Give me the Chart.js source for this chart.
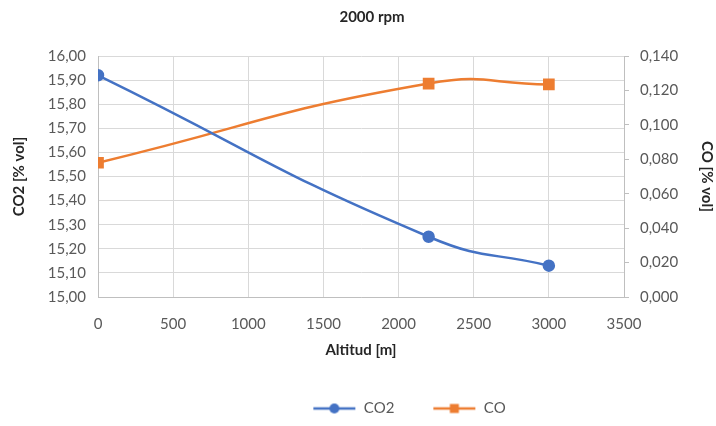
<!DOCTYPE html>
<html>
<head>
<meta charset="utf-8">
<script src="https://cdn.jsdelivr.net/npm/chart.js@4.4.0/dist/chart.umd.min.js"></script>
<style>
  html, body { margin: 0; padding: 0; background: #fff; }
  #wrap { width: 716px; height: 426px; }
</style>
</head>
<body>
<div id="wrap"><canvas id="chart" width="716" height="426"></canvas></div>
<script>
// Dữ liệu
const altitudes = [0, 2200, 3000];
const co2Values = [15.92, 15.25, 15.13];
const coValues = [0.078, 0.124, 0.1235];
const seriesNames = ["CO2", "CO"];
const xRange = [0, 3500, 500];
const co2Range = [15.0, 16.0, 0.1];
const coRange = [0, 0.14, 0.02];

const BLUE = "#4472C4";
const ORANGE = "#ED7D31";
const FONT = "Lato, 'Open Sans', sans-serif";

// Biểu tượng chú giải: đường + điểm ở giữa
function legendIcon(color, shape) {
    const c = document.createElement("canvas");
    c.width = 44; c.height = 14;
    const ctx = c.getContext("2d");
    ctx.strokeStyle = color; ctx.lineWidth = 2.5;
    ctx.beginPath(); ctx.moveTo(1, 7); ctx.lineTo(43, 7); ctx.stroke();
    ctx.fillStyle = color;
    if (shape === "circle") {
        ctx.beginPath(); ctx.arc(22, 7, 5, 0, Math.PI * 2); ctx.fill();
    } else {
        ctx.fillRect(17.5, 2.5, 9, 9);
    }
    return c;
}
const icons = [legendIcon(BLUE, "circle"), legendIcon(ORANGE, "rect")];

const toPoints = (ys) => altitudes.map((x, i) => ({ x, y: ys[i] }));

// Dịch chú giải và tiêu đề sang phải như bản gốc
const shiftBlocks = {
    id: "shiftBlocks",
    afterLayout(chart) {
        chart.legend.left += 46; chart.legend.right += 46;
        chart.titleBlock.left += 11; chart.titleBlock.right += 11;
    }
};

new Chart(document.getElementById("chart"), {
    type: "line",
    data: {
        datasets: [
            { label: seriesNames[0], data: toPoints(co2Values), yAxisID: "y",
              borderColor: BLUE, backgroundColor: BLUE, borderWidth: 2.5,
              pointStyle: "circle", pointRadius: 5, pointHoverRadius: 5, tension: 0.5 },
            { label: seriesNames[1], data: toPoints(coValues), yAxisID: "y1",
              borderColor: ORANGE, backgroundColor: ORANGE, borderWidth: 2.5,
              pointStyle: "rect", pointRadius: 6.5, pointHoverRadius: 6.5, tension: 0.5 }
        ]
    },
    options: {
        responsive: false,
        animation: false,
        layout: { padding: { top: 0, right: 0, bottom: 0, left: 10 } },
        plugins: {
            title: {
                display: true, text: "2000 rpm", color: "#262626", fullSize: false,
                font: { family: FONT, size: 15, weight: "bold" },
                padding: { top: 8, bottom: 30 }
            },
            legend: {
                position: "bottom",
                labels: {
                    usePointStyle: true, pointStyleWidth: 44, boxHeight: 14,
                    color: "#595959", padding: 38,
                    font: { family: FONT, size: 15 },
                    generateLabels: (chart) => Chart.defaults.plugins.legend.labels.generateLabels(chart)
                        .map((l, i) => Object.assign(l, { pointStyle: icons[i] }))
                }
            },
            tooltip: { enabled: false }
        },
        scales: {
            x: {
                type: "linear", min: xRange[0], max: xRange[1],
                afterFit: (s) => { s.height = 66; },
                ticks: { stepSize: xRange[2], color: "#595959", padding: 18,
                         font: { family: FONT, size: 15 },
                         callback: (v) => String(v) },
                grid: { color: "#D9D9D9", tickLength: 0 },
                border: { color: "#BFBFBF" },
                title: { display: true, text: "Altitud [m]", color: "#262626",
                         font: { family: FONT, size: 15, weight: "bold" }, padding: { top: 9 } }
            },
            y: {
                position: "left", min: co2Range[0], max: co2Range[1],
                afterFit: (s) => { s.width = 88; },
                ticks: { stepSize: co2Range[2], color: "#595959", padding: 12,
                         font: { family: FONT, size: 15 },
                         callback: (v) => v.toFixed(2).replace(".", ",") },
                grid: { color: "#D9D9D9", tickLength: 0 },
                border: { color: "#BFBFBF" },
                title: { display: true, text: "CO2 [% vol]", color: "#262626",
                         font: { family: FONT, size: 15, weight: "bold" }, padding: 0 }
            },
            y1: {
                position: "right", min: coRange[0], max: coRange[1],
                afterFit: (s) => { s.width = 92; },
                ticks: { stepSize: coRange[2], color: "#595959", padding: 11,
                         font: { family: FONT, size: 15 },
                         callback: (v) => v.toFixed(3).replace(".", ",") },
                grid: { drawOnChartArea: false, color: "#BFBFBF", tickLength: 5 },
                border: { color: "#BFBFBF" },
                title: { display: true, text: "CO [% vol]", color: "#262626",
                         font: { family: FONT, size: 15, weight: "bold" }, padding: 0 }
            }
        }
    },
    plugins: [shiftBlocks]
});
</script>
</body>
</html>
